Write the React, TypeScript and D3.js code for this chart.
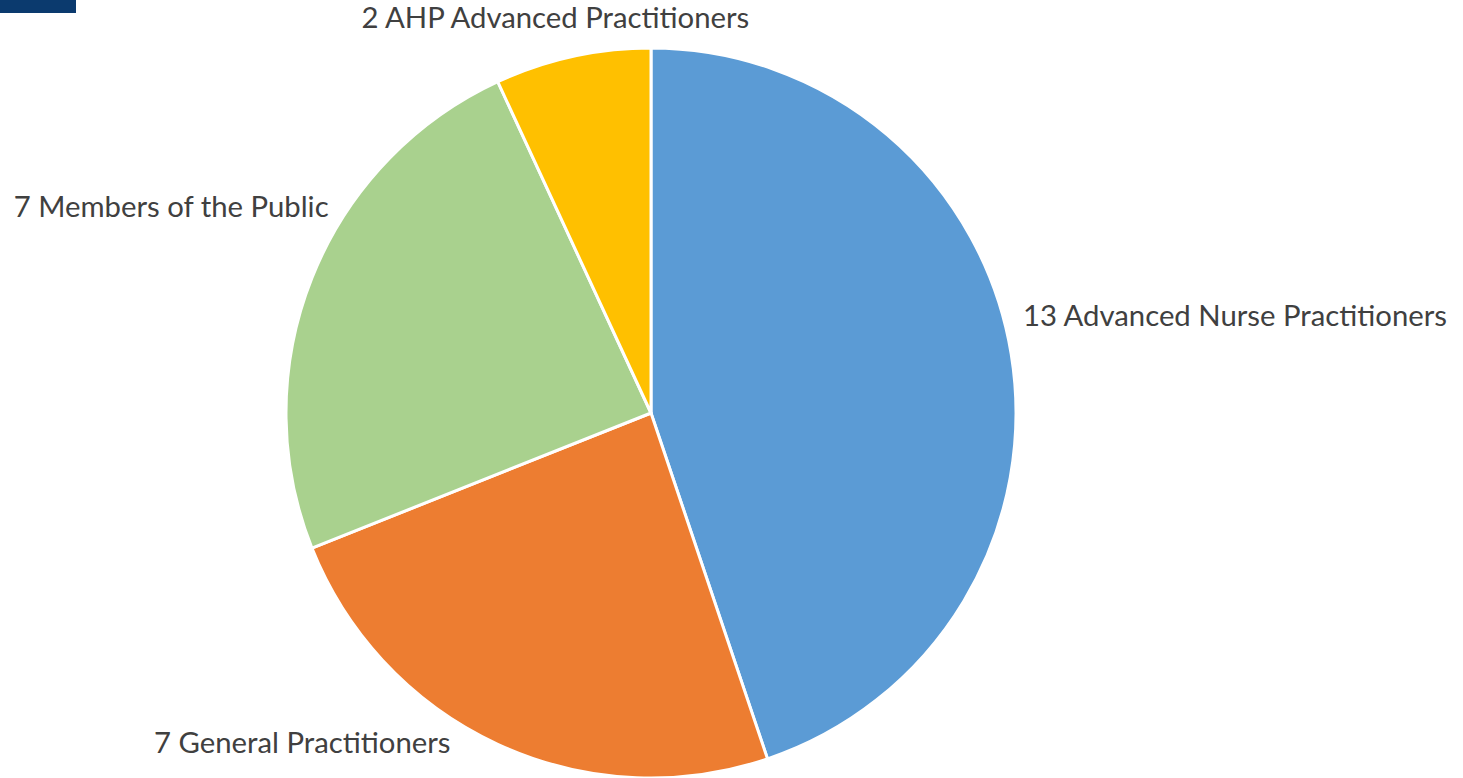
import React, { useRef, useEffect } from 'react';
import { select, pie, arc } from 'd3';

const categories = ['Advanced Nurse Practitioners', 'General Practitioners', 'Members of the Public', 'AHP Advanced Practitioners'];
const counts = [13, 7, 7, 2];
const colors = ['#5B9BD5', '#ED7D31', '#A9D18E', '#FFC000'];

// label nudges relative to the point just outside each slice's mid-angle
const labelAnchor = ['start', 'end', 'end', 'middle'];
const labelNudge = [[2, -26], [-43, 0], [26, -57], [-15, -19]];

const width = 1463;
const height = 778;

const App = () => {
  const svgRef = useRef(null);

  useEffect(() => {
    const cx = 651;
    const cy = 413;
    const radius = 365;

    const svgEl = select(svgRef.current);
    svgEl.selectAll('*').remove();

    // dark banner fragment top-left
    svgEl.append('rect')
      .attr('x', 0).attr('y', 0)
      .attr('width', 76).attr('height', 13)
      .attr('fill', '#0B3A6E');

    const g = svgEl.append('g').attr('transform', `translate(${cx}, ${cy})`);

    const data = categories.map((c, i) => ({ name: c, value: counts[i], i }));

    const slices = pie()
      .value(d => d.value)
      .sort(null)(data);

    const sliceArc = arc().innerRadius(0).outerRadius(radius);

    g.selectAll('.slice')
      .data(slices)
      .enter()
      .append('path')
      .attr('d', sliceArc)
      .attr('fill', d => colors[d.data.i])
      .attr('stroke', '#ffffff')
      .attr('stroke-width', 3)
      .attr('stroke-linejoin', 'round');

    const labelR = radius + 10;
    g.selectAll('.label')
      .data(slices)
      .enter()
      .append('text')
      .attr('x', d => {
        const a = (d.startAngle + d.endAngle) / 2;
        return labelR * Math.sin(a) + labelNudge[d.data.i][0];
      })
      .attr('y', d => {
        const a = (d.startAngle + d.endAngle) / 2;
        return -labelR * Math.cos(a) + labelNudge[d.data.i][1];
      })
      .attr('text-anchor', d => labelAnchor[d.data.i])
      .attr('font-family', 'Lato, "Open Sans", sans-serif')
      .attr('font-size', 29.3)
      .attr('fill', '#404040')
      .text(d => `${d.data.value} ${d.data.name}`);
  }, []);

  return (
    <div style={{ position: 'absolute', left: 0, top: 0 }}>
      <svg ref={svgRef} width={width} height={height} style={{ display: 'block' }}></svg>
    </div>
  );
};

export default App;
